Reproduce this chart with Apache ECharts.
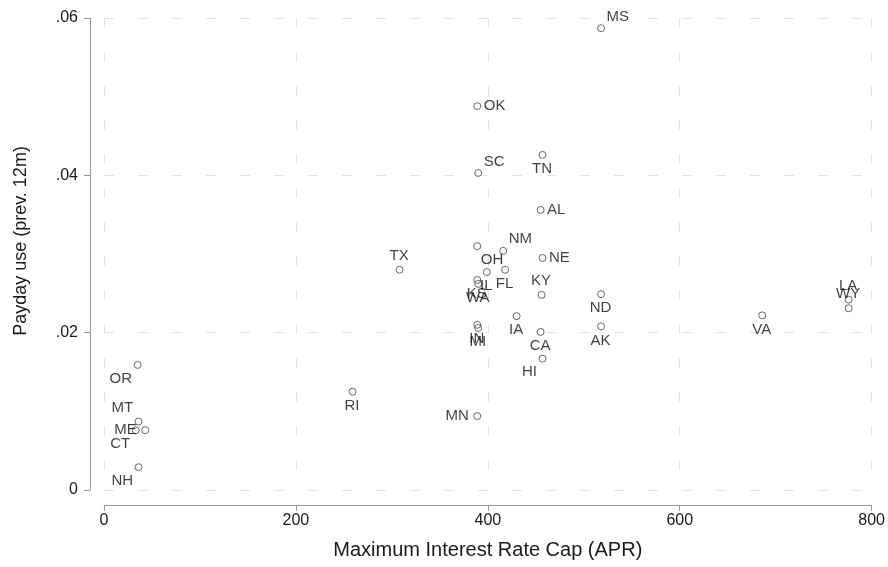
<!DOCTYPE html>
<html>
<head>
<meta charset="utf-8">
<script src="https://cdn.jsdelivr.net/npm/echarts@6/dist/echarts.min.js"></script>
<style>
html,body{margin:0;padding:0;background:#fff;}
#chart{width:888px;height:567px;}
</style>
</head>
<body>
<div id="chart"></div>
<script>
// ---- data ----
const states = ["MS","OK","SC","TN","AL","NM","OH","NE","IL","FL","KS","WA","KY","IA","IN","MI","CA","HI","ND","AK","VA","LA","WY","TX","RI","MN","OR","MT","ME","CT","NH"];
const aprCap = [518,389,390,457,455,416,389,457,399,418,389,390,456,430,389,390,455,457,518,518,686,776,776,308,259,389,35,36,43,33,36];
const paydayUse = [0.0587,0.0488,0.0403,0.0426,0.0356,0.0304,0.0310,0.0295,0.0277,0.0280,0.0267,0.0262,0.0248,0.0221,0.0210,0.0206,0.0201,0.0167,0.0249,0.0208,0.0222,0.0242,0.0231,0.0280,0.0125,0.0094,0.0159,0.0087,0.0076,0.0076,0.0029];
const xTicks = [0,200,400,600,800];
const yTicks = [0,0.02,0.04,0.06];

// label placement (Stata clock positions)
const labelClock = {MS:1,OK:3,SC:1,TN:6,AL:3,NM:1,OH:4,NE:3,IL:6,FL:6,KS:6,WA:6,KY:12,IA:6,IN:6,MI:6,CA:6,HI:7,ND:6,AK:6,VA:6,LA:12,WY:12,TX:12,RI:6,MN:9,OR:7,MT:11,ME:9,CT:7,NH:7};

const SYM = 7;
function labelFor(clock){
  const c = SYM/2;
  switch(clock){
    case 3:  return {position:[c+7, c], align:'left', verticalAlign:'middle'};
    case 9:  return {position:[c-8, c], align:'right', verticalAlign:'middle'};
    case 12: return {position:[c, c-6], align:'center', verticalAlign:'bottom'};
    case 6:  return {position:[c, c+7], align:'center', verticalAlign:'top'};
    case 1:  return {position:[c+6, c-11], align:'left', verticalAlign:'middle'};
    case 4:  return {position:[c+4, c+14], align:'left', verticalAlign:'middle'};
    case 7:  return {position:[c-5, c+14], align:'right', verticalAlign:'middle'};
    case 11: return {position:[c-5, c-13], align:'right', verticalAlign:'middle'};
  }
  return {position:'right'};
}

const pts = states.map((s,i)=>({
  value:[aprCap[i], paydayUse[i]],
  name:s,
  label:Object.assign({show:true, formatter:s}, labelFor(labelClock[s]))
}));

const chart = echarts.init(document.getElementById('chart'), null, {renderer:'canvas'});
const font = 'Liberation Sans, Arial, Helvetica, sans-serif';
const gridLine = {show:true, lineStyle:{color:'#e2e2e2', width:1, type:[10,24]}};
chart.setOption({
  animation:false,
  backgroundColor:'#fff',
  textStyle:{fontFamily:font},
  grid:{left:104, right:16, top:18, bottom:77, containLabel:false},
  xAxis:{
    type:'value', min:xTicks[0], max:xTicks[xTicks.length-1], interval:200,
    offset:15,
    name:'Maximum Interest Rate Cap (APR)', nameLocation:'middle', nameGap:35,
    nameTextStyle:{fontSize:20, color:'#1a1a1a', fontFamily:font},
    axisLine:{show:true, onZero:false, lineStyle:{color:'#999', width:1}},
    axisTick:{show:true, length:6, lineStyle:{color:'#999'}},
    axisLabel:{fontSize:16, color:'#1a1a1a', margin:8, fontFamily:font},
    splitLine:gridLine
  },
  yAxis:{
    type:'value', min:yTicks[0], max:yTicks[yTicks.length-1], interval:0.02,
    offset:14,
    name:'Payday use (prev. 12m)', nameLocation:'middle', nameGap:60,
    nameTextStyle:{fontSize:18, color:'#1a1a1a', fontFamily:font, padding:[0,0,0,26]},
    axisLine:{show:true, onZero:false, lineStyle:{color:'#999', width:1}},
    axisTick:{show:true, length:6, lineStyle:{color:'#999'}},
    axisLabel:{fontSize:16, color:'#1a1a1a', margin:12, fontFamily:font,
      formatter:v=> v===0 ? '0' : v.toFixed(2).replace(/^0/,'')},
    splitLine:gridLine
  },
  series:[{
    type:'scatter',
    symbol:'circle',
    symbolSize:SYM,
    itemStyle:{color:'rgba(0,0,0,0)', borderColor:'#444', borderWidth:1},
    label:{show:true, fontSize:15, color:'#111', fontFamily:font},
    data:pts
  }]
});
</script>
</body>
</html>
